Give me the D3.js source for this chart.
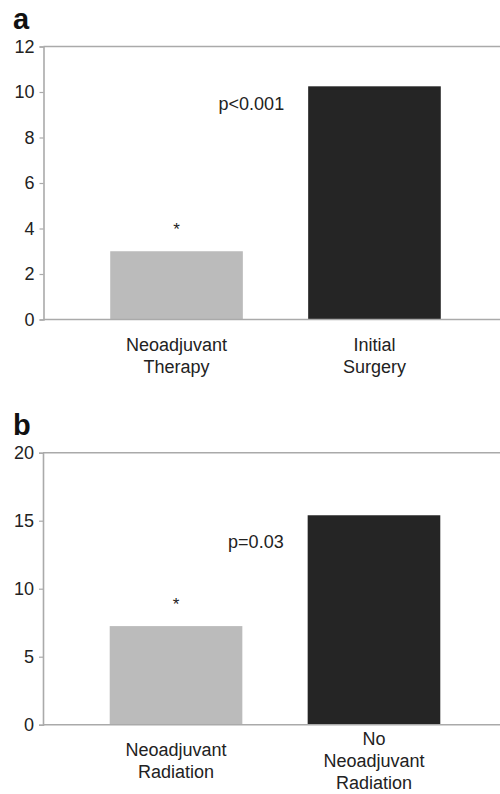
<!DOCTYPE html>
<html>
<head>
<meta charset="utf-8">
<script src="https://cdn.jsdelivr.net/npm/d3@7"></script>
<style>
  html, body { margin: 0; padding: 0; background: #fff; }
  svg { display: block; }
  text { font-family: "Liberation Sans", Arial, Helvetica, sans-serif; fill: #222; }
</style>
</head>
<body>
<svg id="chart" width="500" height="794"></svg>
<script>
// ---- Data ----
const panelLetters = ["a", "b"];
const categoriesA = [["Neoadjuvant", "Therapy"], ["Initial", "Surgery"]];
const valuesA = [3.0, 10.25];
const ticksA = [0, 2, 4, 6, 8, 10, 12];
const yMaxA = 12;
const pTextA = "p<0.001";
const pYA = 9.2;

const categoriesB = [["Neoadjuvant", "Radiation"], ["No", "Neoadjuvant", "Radiation"]];
const valuesB = [7.25, 15.4];
const ticksB = [0, 5, 10, 15, 20];
const yMaxB = 20;
const pTextB = "p=0.03";
const pYB = 13.0;

const barColors = ["#bbbbbb", "#252525"];
const starIndex = 0;

const svg = d3.select("#chart");
const axisColor = "#aaaaaa";
const fs = "18px";

function drawPanel(cfg) {
  const g = svg.append("g");
  const keys = cfg.categories.map((c, i) => i);
  const x = d3.scaleBand().domain(keys).range([cfg.left, cfg.left + 464])
    .paddingInner(0.33).paddingOuter(0.337);
  const y = d3.scaleLinear().domain([0, cfg.yMax]).range([cfg.bottom, cfg.top]);

  // panel letter
  g.append("text").attr("x", 13).attr("y", cfg.top - 18)
    .style("font-size", "29px").style("font-weight", "bold").style("fill", "#111")
    .text(cfg.letter);

  // bars
  g.selectAll("rect.bar").data(cfg.values).join("rect")
    .attr("class", "bar")
    .attr("x", (d, i) => x(i))
    .attr("width", x.bandwidth())
    .attr("y", d => y(d))
    .attr("height", d => y(0) - y(d))
    .attr("fill", (d, i) => barColors[i]);

  // frame lines (top and bottom)
  g.append("line").attr("x1", cfg.left).attr("x2", 500)
    .attr("y1", y(cfg.yMax)).attr("y2", y(cfg.yMax))
    .attr("stroke", axisColor).attr("stroke-width", 1.6);
  g.append("line").attr("x1", cfg.left).attr("x2", 500)
    .attr("y1", y(0)).attr("y2", y(0))
    .attr("stroke", axisColor).attr("stroke-width", 1.6);

  // y axis
  const yAxis = d3.axisLeft(y).tickValues(cfg.ticks).tickSize(4).tickPadding(5);
  const ag = g.append("g").attr("transform", `translate(${cfg.left},0)`).call(yAxis);
  ag.select(".domain").attr("stroke", axisColor).attr("stroke-width", 1.6);
  ag.selectAll(".tick line").attr("stroke", axisColor).attr("stroke-width", 1.2);
  ag.selectAll(".tick text").style("font-size", fs).style("font-family", '"Liberation Sans", Arial, sans-serif').attr("fill", "#222");

  // category labels
  const lineH = 22;
  cfg.categories.forEach((lines, i) => {
    const cx = x(i) + x.bandwidth() / 2;
    const center = y(0) + 36;
    const firstBase = center - (lines.length - 1) * lineH / 2 + 6;
    const t = g.append("text").attr("text-anchor", "middle").style("font-size", fs);
    lines.forEach((ln, j) => {
      t.append("tspan").attr("x", cx).attr("y", firstBase + j * lineH).text(ln);
    });
  });

  // asterisk
  const si = starIndex;
  g.append("text").attr("x", x(si) + x.bandwidth() / 2).attr("y", y(cfg.values[si]) - 16)
    .attr("text-anchor", "middle").style("font-size", "17px").text("*");

  // p-value
  g.append("text").attr("x", x(1) - 24).attr("y", y(cfg.pY))
    .attr("text-anchor", "end").style("font-size", fs).text(cfg.pText);
}

drawPanel({ letter: panelLetters[0], categories: categoriesA, values: valuesA, ticks: ticksA,
  yMax: yMaxA, pText: pTextA, pY: pYA, left: 43.5, top: 46.5, bottom: 319.5 });
drawPanel({ letter: panelLetters[1], categories: categoriesB, values: valuesB, ticks: ticksB,
  yMax: yMaxB, pText: pTextB, pY: pYB, left: 43, top: 452.7, bottom: 724.7 });
</script>
</body>
</html>
